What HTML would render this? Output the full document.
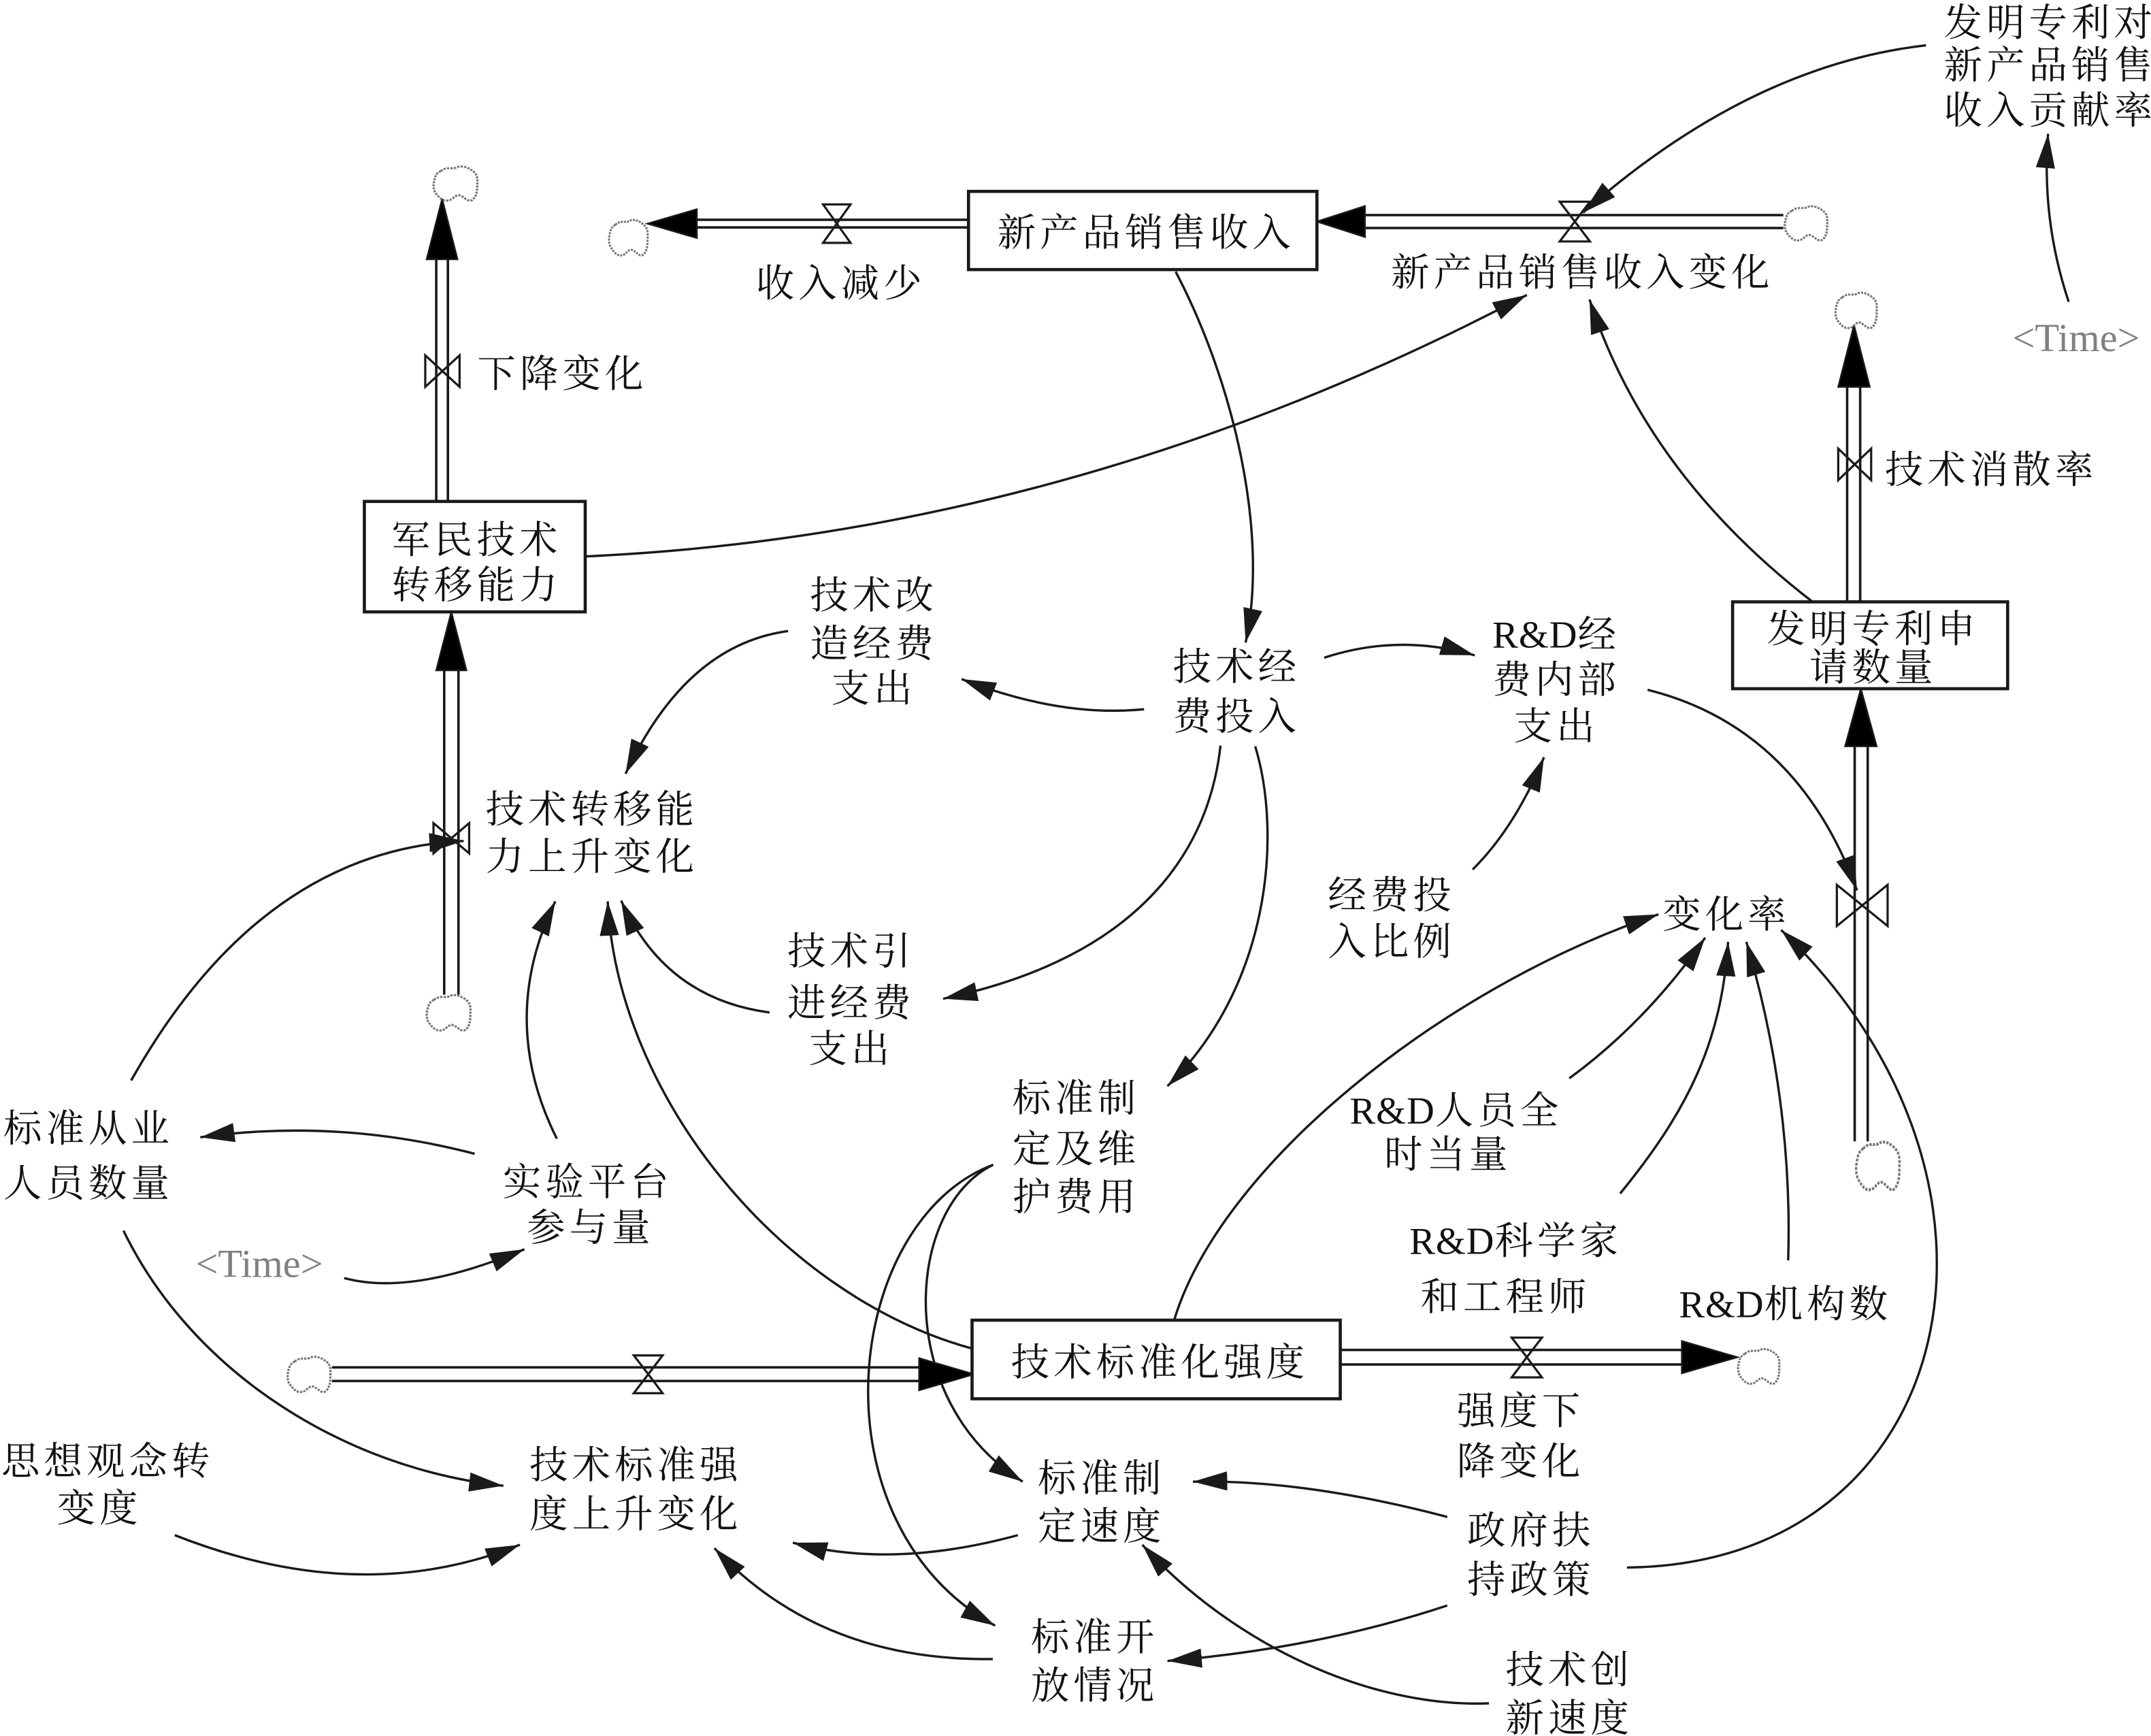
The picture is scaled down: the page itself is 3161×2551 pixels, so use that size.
<!DOCTYPE html>
<html><head><meta charset="utf-8">
<style>
html,body{margin:0;padding:0;background:#fff;}
svg{display:block;}
text{font-family:"Liberation Serif","Noto Serif CJK SC","Noto Sans CJK SC",serif;font-size:28px;fill:#111;letter-spacing:3px;}
.m{text-anchor:middle;}
.g{fill:#808080;font-size:29px;letter-spacing:0;}
.ln{fill:none;stroke:#1a1a1a;stroke-width:1.7;marker-end:url(#a);}
.p{stroke:#1a1a1a;stroke-width:1.8;}
.v{fill:none;stroke:#1a1a1a;stroke-width:1.6;stroke-linejoin:miter;}
.cl{fill:none;stroke:#777;stroke-width:1.6;stroke-dasharray:1.6 0.8;}
.bx{fill:#fff;stroke:#1a1a1a;stroke-width:2.3;}
.fa{fill:#000;stroke:#1a1a1a;stroke-width:1.2;}
</style></head>
<body>
<svg width="3161" height="2551" viewBox="0 0 1568 1265.4" preserveAspectRatio="none" xmlns="http://www.w3.org/2000/svg">
<defs>
<marker id="a" markerUnits="userSpaceOnUse" markerWidth="26" markerHeight="16" viewBox="0 0 26 16" refX="25" refY="8" orient="auto">
<path d="M0,1 L25,8 L0,15 Z" fill="#1a1a1a"/>
</marker>
</defs>

<!-- links -->
<path class="ln" d="M1404,33 Q1275,48 1154,155"/>
<path class="ln" d="M1508,220 Q1488,160 1493,97.5"/>
<path class="ln" d="M857,198 C900,280 925,390 908,468.4"/>
<path class="ln" d="M426,405.6 Q780.5,389.7 1113,215"/>
<path class="ln" d="M1320.8,438.3 Q1200,345 1158.7,218.3"/>
<path class="ln" d="M834,517 Q772.5,523 701,495"/>
<path class="ln" d="M574.5,460 Q500,470 456,564"/>
<path class="ln" d="M965.3,479.4 Q1020,461.5 1075,477.7"/>
<path class="ln" d="M889.7,543.5 C880,630 820,700 687.5,728"/>
<path class="ln" d="M915,544 C935,610 925,720 851,791.7"/>
<path class="ln" d="M1201,502.8 Q1310,530 1353.7,649"/>
<path class="ln" d="M1073.5,633.8 Q1104.5,603 1125.5,552"/>
<path class="ln" d="M405.9,830 Q362.6,743.3 404.8,657"/>
<path class="ln" d="M708.6,983 C570,945 450,800 443,657"/>
<path class="ln" d="M561,738 Q485,728 452.8,656.5"/>
<path class="ln" d="M95.6,787.6 Q190,620 338,613"/>
<path class="ln" d="M346,841 Q246,815 146,829"/>
<path class="ln" d="M250.9,931.6 Q300,945 382.3,910.6"/>
<path class="ln" d="M90,897 C140,1000 250,1070 367,1083"/>
<path class="ln" d="M127.4,1119 Q262.8,1172.5 379,1126"/>
<path class="ln" d="M724,849 C660,880 650,1020 745.5,1080"/>
<path class="ln" d="M724,849 C615,890 590,1110 725.4,1185"/>
<path class="ln" d="M856,962 C890,850 1050,720 1209,666.5"/>
<path class="ln" d="M1144,786 Q1200,745 1243,683.5"/>
<path class="ln" d="M1181,870 C1230,810 1255,760 1259.7,686.5"/>
<path class="ln" d="M1303.5,918.7 C1306,840 1295,760 1273,686.5"/>
<path class="ln" d="M1186,1142.6 C1430,1140 1490,860 1298.4,677.9"/>
<path class="ln" d="M1055,1105.7 Q951,1078.4 869.6,1080"/>
<path class="ln" d="M1055,1170.3 Q960.6,1201.5 851,1210.7"/>
<path class="ln" d="M1085.4,1241.6 C1000,1245 900,1200 832.7,1126"/>
<path class="ln" d="M742,1119 Q650,1144 578,1124.5"/>
<path class="ln" d="M723.7,1209.3 Q597.75,1211 520.8,1128.5"/>

<!-- pipes -->
<line class="p" x1="508" y1="160.2" x2="706" y2="160.2"/><line class="p" x1="508" y1="165.8" x2="706" y2="165.8"/>
<line class="p" x1="995" y1="156.8" x2="1300" y2="156.8"/><line class="p" x1="995" y1="166.2" x2="1300" y2="166.2"/>
<line class="p" x1="318" y1="189" x2="318" y2="365.5"/><line class="p" x1="326.5" y1="189" x2="326.5" y2="365.5"/>
<line class="p" x1="323.8" y1="488.6" x2="323.8" y2="725"/><line class="p" x1="334.2" y1="488.6" x2="334.2" y2="725"/>
<line class="p" x1="1346.5" y1="282" x2="1346.5" y2="438.7"/><line class="p" x1="1356" y1="282" x2="1356" y2="438.7"/>
<line class="p" x1="1352" y1="544" x2="1352" y2="832"/><line class="p" x1="1361.5" y1="544" x2="1361.5" y2="832"/>
<line class="p" x1="242" y1="996.7" x2="670" y2="996.7"/><line class="p" x1="242" y1="1006.6" x2="670" y2="1006.6"/>
<line class="p" x1="977" y1="984" x2="1226" y2="984"/><line class="p" x1="977" y1="994.6" x2="1226" y2="994.6"/>

<!-- flow arrowheads -->
<polygon class="fa" points="472,163 508,152.5 508,173.5"/>
<polygon class="fa" points="960,161.5 995,150.2 995,172.8"/>
<polygon class="fa" points="322.3,145 311,189 333.5,189"/>
<polygon class="fa" points="329,446 318,488.6 340,488.6"/>
<polygon class="fa" points="1351.5,237 1340,282 1363,282"/>
<polygon class="fa" points="1356.5,502 1345,544 1368,544"/>
<polygon class="fa" points="710,1001.7 670,990 670,1013.4"/>
<polygon class="fa" points="1266.5,989.3 1226,977.5 1226,1001"/>

<!-- valves -->
<path class="v" d="M600,149 L620,149 L610,163 Z M610,163 L600,177 L620,177 Z"/>
<path class="v" d="M1137,147 L1159,147 L1148,161.5 Z M1148,161.5 L1137,176 L1159,176 Z"/>
<path class="v" d="M310,259 L310,282 L322.5,270.5 Z M335,259 L335,282 L322.5,270.5 Z"/>
<path class="v" d="M316,600 L316,622 L329,611 Z M342,600 L342,622 L329,611 Z"/>
<path class="v" d="M1340,327 L1340,350 L1352,338.5 Z M1364,327 L1364,350 L1352,338.5 Z"/>
<path class="v" d="M1339,645 L1339,675 L1357.5,660 Z M1376,645 L1376,675 L1357.5,660 Z"/>
<path class="v" d="M462,988 L483,988 L472.6,1001.7 Z M472.6,1001.7 L462,1015.5 L483,1015.5 Z"/>
<path class="v" d="M1102,975 L1124,975 L1113,989.3 Z M1113,989.3 L1102,1004 L1124,1004 Z"/>

<!-- clouds -->
<g class="cl">
<path transform="translate(443,160) scale(0.9375,0.964)" d="M6,4 C10,0 14,3 17,1 C21,-1 26,2 28,4 C32,7 31,12 31,16 C31,21 30,25 27,27 C24,28 22,24 19,23 C16,22 14,27 11,27 C8,28 5,25 3,22 C0,18 1,13 2,9 C3,6 4,5 6,4 Z"/>
<path transform="translate(1300,150) scale(1.03,0.93)" d="M6,4 C10,0 14,3 17,1 C21,-1 26,2 28,4 C32,7 31,12 31,16 C31,21 30,25 27,27 C24,28 22,24 19,23 C16,22 14,27 11,27 C8,28 5,25 3,22 C0,18 1,13 2,9 C3,6 4,5 6,4 Z"/>
<path transform="translate(315,121) scale(1.06,0.93)" d="M6,4 C10,0 14,3 17,1 C21,-1 26,2 28,4 C32,7 31,12 31,16 C31,21 30,25 27,27 C24,28 22,24 19,23 C16,22 14,27 11,27 C8,28 5,25 3,22 C0,18 1,13 2,9 C3,6 4,5 6,4 Z"/>
<path transform="translate(310,725) scale(1.06,0.964)" d="M6,4 C10,0 14,3 17,1 C21,-1 26,2 28,4 C32,7 31,12 31,16 C31,21 30,25 27,27 C24,28 22,24 19,23 C16,22 14,27 11,27 C8,28 5,25 3,22 C0,18 1,13 2,9 C3,6 4,5 6,4 Z"/>
<path transform="translate(1337,213) scale(1.0,0.964)" d="M6,4 C10,0 14,3 17,1 C21,-1 26,2 28,4 C32,7 31,12 31,16 C31,21 30,25 27,27 C24,28 22,24 19,23 C16,22 14,27 11,27 C8,28 5,25 3,22 C0,18 1,13 2,9 C3,6 4,5 6,4 Z"/>
<path transform="translate(1352,832) scale(1.05,1.3)" d="M6,4 C10,0 14,3 17,1 C21,-1 26,2 28,4 C32,7 31,12 31,16 C31,21 30,25 27,27 C24,28 22,24 19,23 C16,22 14,27 11,27 C8,28 5,25 3,22 C0,18 1,13 2,9 C3,6 4,5 6,4 Z"/>
<path transform="translate(208.6,988.6) scale(1.04,0.96)" d="M6,4 C10,0 14,3 17,1 C21,-1 26,2 28,4 C32,7 31,12 31,16 C31,21 30,25 27,27 C24,28 22,24 19,23 C16,22 14,27 11,27 C8,28 5,25 3,22 C0,18 1,13 2,9 C3,6 4,5 6,4 Z"/>
<path transform="translate(1266,983) scale(1.0,0.946)" d="M6,4 C10,0 14,3 17,1 C21,-1 26,2 28,4 C32,7 31,12 31,16 C31,21 30,25 27,27 C24,28 22,24 19,23 C16,22 14,27 11,27 C8,28 5,25 3,22 C0,18 1,13 2,9 C3,6 4,5 6,4 Z"/>
</g>

<!-- stock boxes -->
<rect class="bx" x="706" y="139.5" width="254" height="57"/>
<rect class="bx" x="265.6" y="365.5" width="161" height="80.5"/>
<rect class="bx" x="1263" y="438.7" width="200.5" height="63.3"/>
<rect class="bx" x="708.6" y="962.3" width="268.4" height="57.3"/>

<!-- texts -->
<text x="1417" y="26">发明专利对</text>
<text x="1417" y="57">新产品销售</text>
<text x="1417" y="90">收入贡献率</text>

<text class="m" x="835.5" y="179">新产品销售收入</text>
<text class="m" x="613" y="216">收入减少</text>
<text class="m" x="1153.5" y="208">新产品销售收入变化</text>
<text x="348" y="282">下降变化</text>
<text x="1374" y="352">技术消散率</text>
<text class="g" x="1467" y="256">&lt;Time&gt;</text>

<text class="m" x="347.5" y="403">军民技术</text>
<text class="m" x="347.5" y="436">转移能力</text>

<text class="m" x="637" y="443.5">技术改</text>
<text class="m" x="637" y="478.6">造经费</text>
<text class="m" x="637" y="511.5">支出</text>

<text class="m" x="901.5" y="495.6">技术经</text>
<text class="m" x="901.5" y="531.8">费投入</text>

<text class="m" x="1134.5" y="472"><tspan style="letter-spacing:0.5px">R&amp;D</tspan>经</text>
<text class="m" x="1134.5" y="505">费内部</text>
<text class="m" x="1134.5" y="539">支出</text>

<text class="m" x="1365.5" y="468">发明专利申</text>
<text class="m" x="1365.5" y="496">请数量</text>

<text class="m" x="431.5" y="599.5">技术转移能</text>
<text class="m" x="431.5" y="634">力上升变化</text>

<text class="m" x="1014.5" y="662">经费投</text>
<text class="m" x="1014.5" y="696">入比例</text>

<text class="m" x="1258.5" y="676">变化率</text>

<text class="m" x="620.5" y="703">技术引</text>
<text class="m" x="620.5" y="740.6">进经费</text>
<text class="m" x="620.5" y="774">支出</text>

<text class="m" x="784.5" y="810">标准制</text>
<text class="m" x="784.5" y="847">定及维</text>
<text class="m" x="784.5" y="882">护费用</text>

<text class="m" x="64.5" y="832">标准从业</text>
<text class="m" x="64.5" y="872">人员数量</text>

<text class="m" x="428.5" y="871">实验平台</text>
<text class="m" x="430.5" y="904.4">参与量</text>

<text class="m" x="1061.5" y="819"><tspan style="letter-spacing:0.5px">R&amp;D</tspan>人员全</text>
<text class="m" x="1055.5" y="851">时当量</text>

<text class="g" x="142.6" y="930.8">&lt;Time&gt;</text>

<text class="m" x="1105" y="914"><tspan style="letter-spacing:0.5px">R&amp;D</tspan>科学家</text>
<text class="m" x="1097.5" y="955">和工程师</text>

<text class="m" x="1301.5" y="960"><tspan style="letter-spacing:0.5px">R&amp;D</tspan>机构数</text>

<text class="m" x="845.5" y="1002.6">技术标准化强度</text>

<text class="m" x="1108.5" y="1038">强度下</text>
<text class="m" x="1108.5" y="1074.7">降变化</text>

<text class="m" x="78.5" y="1074.7">思想观念转</text>
<text class="m" x="72.5" y="1109">变度</text>

<text class="m" x="463.5" y="1077.5">技术标准强</text>
<text class="m" x="463.5" y="1113">度上升变化</text>

<text class="m" x="803" y="1087">标准制</text>
<text class="m" x="803" y="1122">定速度</text>

<text class="m" x="1116" y="1125">政府扶</text>
<text class="m" x="1116" y="1161">持政策</text>

<text class="m" x="798" y="1203">标准开</text>
<text class="m" x="798" y="1238">放情况</text>

<text class="m" x="1144" y="1226.8">技术创</text>
<text class="m" x="1144" y="1262">新速度</text>
</svg>
</body></html>
